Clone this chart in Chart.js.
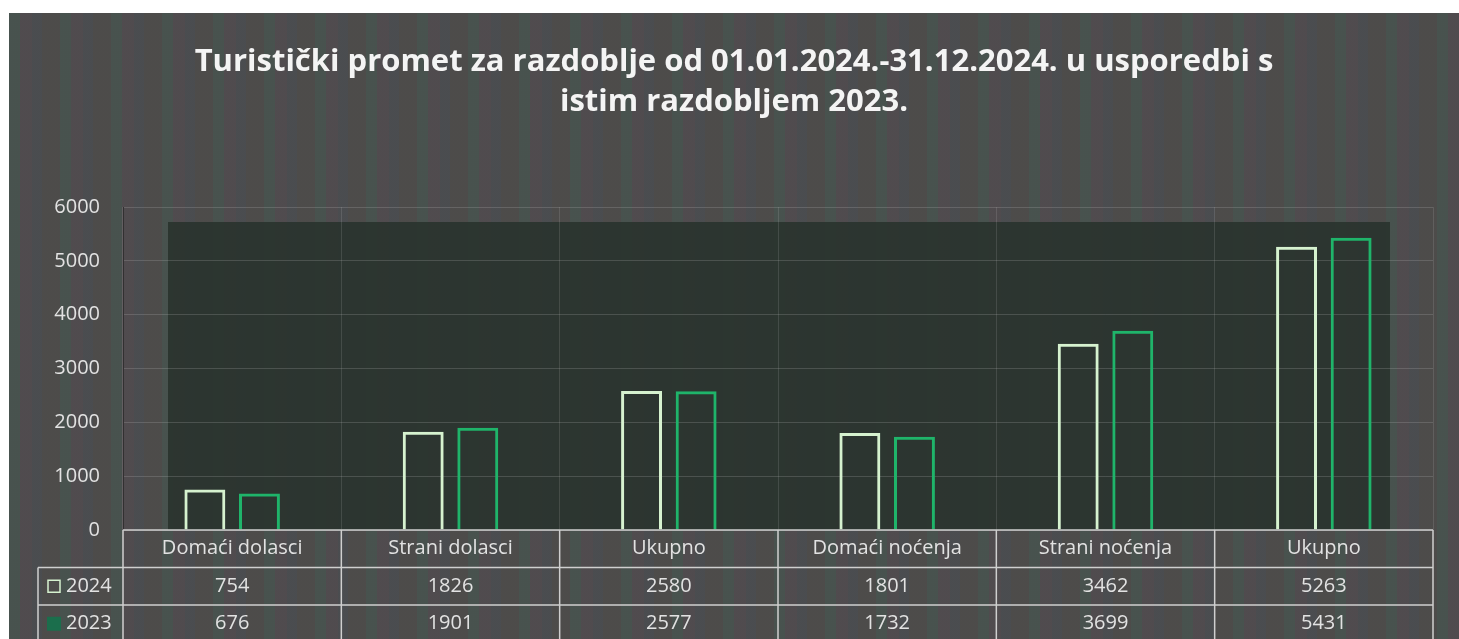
<!DOCTYPE html>
<html>
<head>
<meta charset="utf-8">
<script src="https://cdn.jsdelivr.net/npm/chart.js@4/dist/chart.umd.min.js"></script>
<style>
  body { margin: 0; background: #ffffff; }
  #chartFrame {
    position: absolute; left: 9px; top: 13px; width: 1450px; height: 626px;
    background-color: #4b4a4a;
    background-image: repeating-linear-gradient(90deg,
      rgba(60,115,95,0.20) 0px, rgba(60,115,95,0.20) 11px,
      rgba(115,85,110,0.12) 11px, rgba(115,85,110,0.12) 23px,
      rgba(70,95,120,0.12) 23px, rgba(70,95,120,0.12) 33px,
      rgba(95,90,75,0.10) 33px, rgba(95,90,75,0.10) 51px);
  }
</style>
</head>
<body>
<div id="chartFrame"><canvas id="myChart" width="1450" height="626"></canvas></div>
<script>
// chart data
var categories = ['Domaći dolasci', 'Strani dolasci', 'Ukupno', 'Domaći noćenja', 'Strani noćenja', 'Ukupno'];
var seriesNames = ['2024', '2023'];
var values2024 = [754, 1826, 2580, 1801, 3462, 5263];
var values2023 = [676, 1901, 2577, 1732, 3699, 5431];
var yTicks = [0, 1000, 2000, 3000, 4000, 5000, 6000];

var color2024 = '#d6f2cf';
var color2023 = '#1fb46a';
var textColor = '#e2e2e2';
var lineColor = '#cfcfcf';
var font = '"Open Sans", sans-serif';

// dark back wall behind the bars
var backWall = {
    id: 'backWall',
    beforeDraw: function (chart) {
        var a = chart.chartArea, ctx = chart.ctx;
        ctx.save();
        ctx.fillStyle = 'rgba(40,50,44,0.88)';
        ctx.fillRect(a.left + 45, a.top + 15, a.right - a.left - 88, a.bottom - a.top - 15);
        ctx.restore();
    }
};

// data table under the plot, built from the same arrays
var dataTable = {
    id: 'dataTable',
    afterDraw: function (chart) {
        var a = chart.chartArea, ctx = chart.ctx, x = chart.scales.x;
        var rowH = 37.5;
        var step = x.getPixelForValue(1) - x.getPixelForValue(0);
        var edges = [];
        for (var i = 0; i <= categories.length; i++) edges.push(x.getPixelForValue(i) - step / 2);
        var legLeft = a.left - 85;
        var top = a.bottom;
        ctx.save();
        ctx.strokeStyle = lineColor;
        ctx.lineWidth = 1.5;
        ctx.beginPath();
        // horizontal lines
        ctx.moveTo(a.left, top); ctx.lineTo(a.right, top);
        ctx.moveTo(legLeft, top + rowH); ctx.lineTo(a.right, top + rowH);
        ctx.moveTo(legLeft, top + rowH * 2); ctx.lineTo(a.right, top + rowH * 2);
        // vertical lines
        edges.forEach(function (e) { ctx.moveTo(e, top); ctx.lineTo(e, top + rowH * 3); });
        ctx.moveTo(legLeft, top + rowH); ctx.lineTo(legLeft, top + rowH * 3);
        ctx.stroke();

        ctx.fillStyle = textColor;
        ctx.font = '20px ' + font;
        ctx.textAlign = 'center';
        ctx.textBaseline = 'middle';
        var rows = [values2024, values2023];
        categories.forEach(function (c, i) {
            var cx = x.getPixelForValue(i);
            ctx.fillText(c, cx, top + rowH / 2);
            rows.forEach(function (r, j) {
                ctx.fillText(String(r[i]), cx, top + rowH * (j + 1.5));
            });
        });
        // legend keys
        ctx.textAlign = 'left';
        seriesNames.forEach(function (s, j) {
            var cy = top + rowH * (j + 1.5);
            if (j === 0) {
                ctx.strokeStyle = color2024; ctx.lineWidth = 1.5;
                ctx.strokeRect(legLeft + 10, cy - 6, 12, 12);
            } else {
                ctx.fillStyle = '#1b6e4c';
                ctx.fillRect(legLeft + 9, cy - 7, 14, 14);
                ctx.fillStyle = textColor;
            }
            ctx.fillText(s, legLeft + 28, cy);
        });
        ctx.restore();
    }
};

var config = {
    type: 'bar',
    data: {
        labels: categories,
        datasets: [
            {
                label: seriesNames[0],
                data: values2024,
                backgroundColor: 'rgba(0,0,0,0)',
                borderColor: color2024,
                borderWidth: 3
            },
            {
                label: seriesNames[1],
                data: values2023,
                backgroundColor: 'rgba(0,0,0,0)',
                borderColor: color2023,
                borderWidth: 3
            }
        ]
    },
    options: {
        responsive: false,
        animation: false,
        categoryPercentage: 0.5,
        barPercentage: 0.75,
        layout: { padding: { left: 0, right: 0, top: 0, bottom: 109 } },
        plugins: {
            legend: { display: false },
            tooltip: { enabled: false },
            title: {
                display: true,
                text: ['Turistički promet za razdoblje od 01.01.2024.-31.12.2024. u usporedbi s', 'istim razdobljem 2023.'],
                color: '#f4f4f4',
                font: { family: font, size: 31, weight: 'bold', lineHeight: '40px' },
                padding: { top: 29, bottom: 85 }
            }
        },
        scales: {
            x: {
                ticks: { display: false },
                grid: { color: 'rgba(200,200,200,0.16)', drawTicks: false },
                border: { display: false }
            },
            y: {
                min: 0,
                max: 6000,
                afterFit: function (s) { s.width = 114; },
                afterBuildTicks: function (s) { s.ticks = yTicks.map(function (v) { return { value: v }; }); },
                ticks: {
                    color: textColor, padding: 23, font: { family: font, size: 20 },
                    callback: function (v) { return String(v); }
                },
                grid: { color: 'rgba(200,200,200,0.2)', drawTicks: false },
                border: { color: 'rgba(30,30,30,0.6)' }
            },
            // empty right margin so the title stays centred on the whole frame
            yRight: {
                position: 'right',
                min: 0,
                max: 6000,
                afterFit: function (s) { s.width = 26; },
                ticks: { display: false },
                grid: { display: false },
                border: { display: false }
            }
        }
    },
    plugins: [backWall, dataTable]
};

var ctx = document.getElementById('myChart').getContext('2d');
var myChart = new Chart(ctx, config);
</script>
</body>
</html>
